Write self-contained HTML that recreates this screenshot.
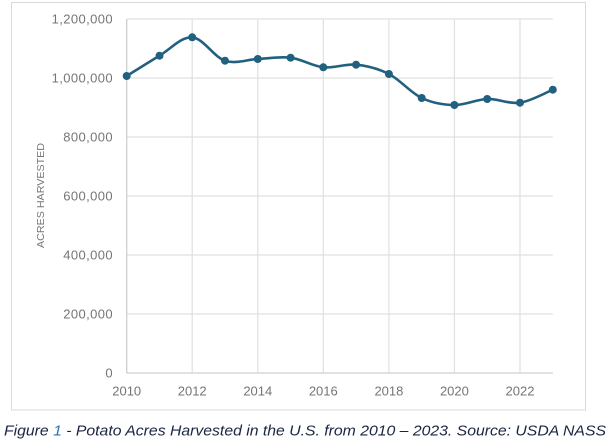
<!DOCTYPE html>
<html><head><meta charset="utf-8"><style>
html,body{margin:0;padding:0;background:#fff;}
svg{display:block;}
</style></head><body>
<svg width="610" height="446" viewBox="0 0 610 446" xmlns="http://www.w3.org/2000/svg">
<rect x="0" y="0" width="610" height="446" fill="#fff"/>
<rect x="11.5" y="2.5" width="574" height="407.5" fill="#fff" stroke="#d9d9d9" stroke-width="1"/>
<g stroke="#e0e0e0" stroke-width="1.2" fill="none">
<line x1="126.7" y1="19" x2="552.8" y2="19"/>
<line x1="126.7" y1="78" x2="552.8" y2="78"/>
<line x1="126.7" y1="137" x2="552.8" y2="137"/>
<line x1="126.7" y1="196" x2="552.8" y2="196"/>
<line x1="126.7" y1="255" x2="552.8" y2="255"/>
<line x1="126.7" y1="314" x2="552.8" y2="314"/>
<line x1="192.2" y1="19" x2="192.2" y2="373"/>
<line x1="257.8" y1="19" x2="257.8" y2="373"/>
<line x1="323.3" y1="19" x2="323.3" y2="373"/>
<line x1="388.9" y1="19" x2="388.9" y2="373"/>
<line x1="454.4" y1="19" x2="454.4" y2="373"/>
<line x1="520.0" y1="19" x2="520.0" y2="373"/>
</g>
<g stroke="#cfcfcf" stroke-width="1.3">
<line x1="126.7" y1="19" x2="126.7" y2="373"/>
<line x1="126.7" y1="373" x2="552.8" y2="373"/>
</g>
<g font-family="Liberation Sans, Arial, sans-serif" font-size="13" fill="#757575" text-anchor="end" letter-spacing="0.4">
<text x="113" y="23.5">1,200,000</text>
<text x="113" y="82.5">1,000,000</text>
<text x="113" y="141.5">800,000</text>
<text x="113" y="200.5">600,000</text>
<text x="113" y="259.5">400,000</text>
<text x="113" y="318.5">200,000</text>
<text x="113" y="377.5">0</text>
</g>
<g font-family="Liberation Sans, Arial, sans-serif" font-size="13" fill="#757575" text-anchor="middle">
<text x="126.7" y="395.5">2010</text>
<text x="192.2" y="395.5">2012</text>
<text x="257.8" y="395.5">2014</text>
<text x="323.3" y="395.5">2016</text>
<text x="388.9" y="395.5">2018</text>
<text x="454.4" y="395.5">2020</text>
<text x="520.0" y="395.5">2022</text>
</g>
<text transform="translate(44.2,195.5) rotate(-90)" font-family="Liberation Sans, Arial, sans-serif" font-size="10.2" fill="#777" text-anchor="middle" textLength="105" lengthAdjust="spacingAndGlyphs">ACRES HARVESTED</text>
<path d="M126.7,76 C132.17,72.62 148.58,62.15 159.5,55.7 C170.42,49.25 181.28,36.47 192.2,37.3 C203.12,38.13 214.07,57.08 225.0,60.7 C235.93,64.32 246.87,59.5 257.8,59 C268.73,58.5 279.68,56.32 290.6,57.7 C301.52,59.08 312.38,66.13 323.3,67.3 C334.22,68.47 345.17,63.58 356.1,64.7 C367.03,65.82 377.97,68.45 388.9,74 C399.83,79.55 410.78,92.83 421.7,98 C432.62,103.17 443.48,104.83 454.4,105 C465.32,105.17 476.27,99.38 487.2,99 C498.13,98.62 509.07,104.25 520.0,102.7 C530.93,101.15 547.33,91.87 552.8,89.7" fill="none" stroke="#21607f" stroke-width="2.6" stroke-linejoin="round"/>
<g fill="#21607f">
<circle cx="126.7" cy="76" r="4"/>
<circle cx="159.5" cy="55.7" r="4"/>
<circle cx="192.2" cy="37.3" r="4"/>
<circle cx="225.0" cy="60.7" r="4"/>
<circle cx="257.8" cy="59" r="4"/>
<circle cx="290.6" cy="57.7" r="4"/>
<circle cx="323.3" cy="67.3" r="4"/>
<circle cx="356.1" cy="64.7" r="4"/>
<circle cx="388.9" cy="74" r="4"/>
<circle cx="421.7" cy="98" r="4"/>
<circle cx="454.4" cy="105" r="4"/>
<circle cx="487.2" cy="99" r="4"/>
<circle cx="520.0" cy="102.7" r="4"/>
<circle cx="552.8" cy="89.7" r="4"/>
</g>
<text x="4" y="435.5" font-family="Liberation Sans, Arial, sans-serif" font-size="15" font-style="italic" fill="#1a2640" textLength="602" lengthAdjust="spacingAndGlyphs">Figure <tspan fill="#2e74b5">1</tspan> - Potato Acres Harvested in the U.S. from 2010 – 2023. Source: USDA NASS</text>
</svg>
</body></html>
